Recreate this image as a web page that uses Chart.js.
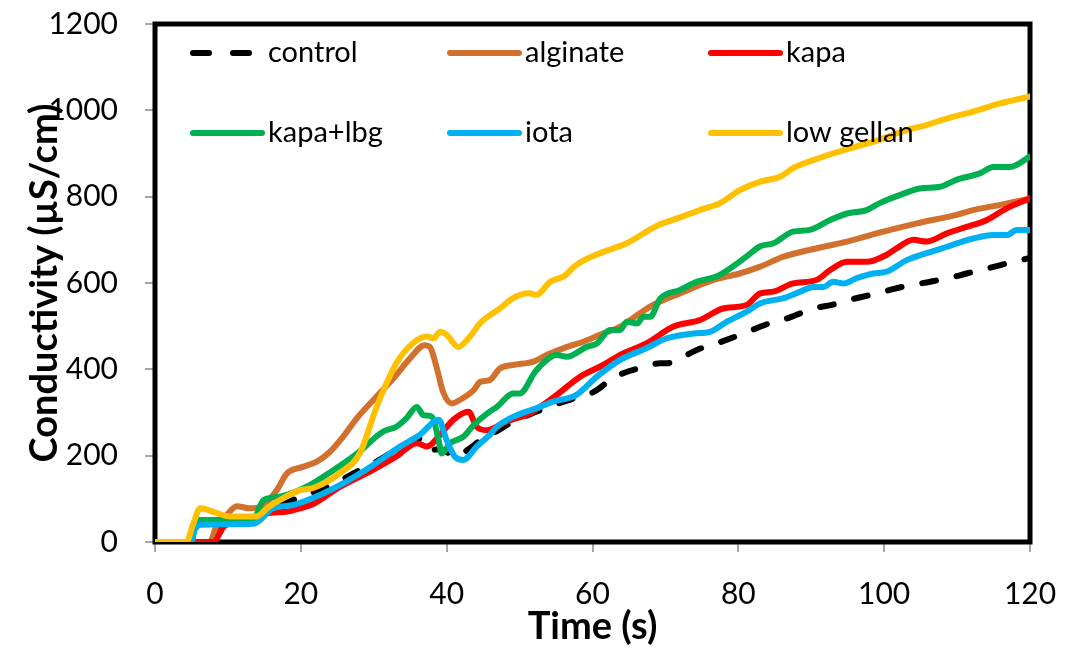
<!DOCTYPE html>
<html>
<head>
<meta charset="utf-8">
<script src="https://cdn.jsdelivr.net/npm/chart.js@4.4.1/dist/chart.umd.min.js"></script>
<style>
  html, body { margin: 0; padding: 0; background: #fff; }
</style>
</head>
<body>
<canvas id="conductivityChart" width="1076" height="648"></canvas>
<script>
// values (time in s, conductivity in µS/cm)
const controlTime = [0, 7, 8.5, 9.5, 11, 13, 15, 18, 20, 22.6, 25, 27.2, 30, 33, 36.3, 37.7, 39, 41.4, 43, 45, 47, 49.1, 52, 54.6, 57, 59.7, 60.6, 62, 64.2, 67, 69.3, 70.2, 72, 74.3, 77, 80.7, 84, 87, 90.3, 93, 95.3, 98, 100.8, 103, 106.3, 109, 111.3, 114, 117.7, 120];
const controlCond = [0, 0, 10, 40, 45, 45, 65, 90, 105, 120, 138, 159, 183, 212, 240, 213, 215, 198, 215, 240, 258, 279, 300, 317, 330, 344, 352, 370, 391, 405, 414, 414, 425, 445, 460, 483, 505, 520, 541, 550, 561, 572, 584, 593, 603, 612, 622, 633, 649, 658];

const alginateTime = [0, 7.5, 8.5, 9.8, 11.2, 13, 14.9, 16.7, 18.1, 20.3, 22.2, 24, 25.8, 27.7, 30.4, 32.7, 35, 37, 37.7, 38.6, 39.5, 40.7, 41.8, 43.7, 44.6, 45.9, 47.3, 49.1, 51.9, 53.7, 56.5, 58.7, 61, 63.8, 66.5, 68.3, 72, 76.6, 80.2, 83, 86.2, 91.7, 94.9, 99.9, 104.5, 109.9, 112.2, 115.9, 120];
const alginateCond = [0, 0, 40, 62, 83, 78, 86, 120, 159, 174, 186, 209, 244, 287, 337, 379, 426, 456, 452, 406, 348, 321, 329, 352, 371, 375, 402, 410, 418, 433, 452, 464, 480, 499, 530, 549, 576, 607, 622, 638, 661, 684, 696, 719, 738, 758, 769, 781, 796];

const kapaTime = [0, 8, 9.4, 10.5, 13, 15.3, 18, 19.9, 21.7, 25.4, 29.9, 33.1, 35.9, 37.3, 39.1, 40.9, 43, 44.1, 45.5, 47.3, 48.2, 51.4, 55.1, 58.3, 61, 64.2, 67.4, 71.1, 74.7, 77.9, 81.1, 83, 84.8, 87.5, 90.7, 92.6, 94.9, 97.6, 100.3, 101.7, 104, 105.8, 108.6, 111.3, 114.1, 116.8, 120];
const kapaCond = [0, 0, 35, 45, 48, 66, 70, 78, 88, 128, 167, 198, 229, 221, 248, 283, 302, 267, 259, 271, 279, 298, 341, 383, 406, 437, 460, 499, 514, 541, 549, 576, 580, 599, 607, 630, 649, 649, 665, 680, 700, 696, 715, 730, 746, 773, 796];

const kapaLbgTime = [0, 5, 5.7, 6.6, 13.5, 14.9, 17.1, 20.8, 24.5, 27.7, 31.3, 33.1, 34.5, 35.9, 36.8, 38, 38.9, 39.3, 40.5, 42.3, 43.7, 45.9, 46.9, 49.1, 50, 52.3, 55.1, 56.5, 59.2, 60.6, 62.4, 63.8, 64.7, 66.1, 67, 67.9, 69.3, 72, 74.3, 77, 78.9, 81.1, 83, 84.8, 87.5, 89.8, 92.6, 94.9, 97.6, 99.4, 102.2, 104.9, 107.7, 109.9, 113.1, 115, 117.3, 120];
const kapaLbgCond = [0, 0, 51, 51, 55, 97, 105, 128, 167, 205, 256, 267, 287, 313, 294, 290, 236, 205, 229, 244, 271, 302, 313, 344, 344, 398, 433, 429, 452, 460, 491, 491, 510, 506, 522, 522, 564, 584, 603, 615, 634, 661, 685, 692, 719, 723, 746, 761, 769, 785, 804, 819, 823, 839, 854, 869, 869, 893];

const iotaTime = [0, 4.8, 5.5, 6.2, 13.5, 16.2, 19, 22.6, 25.8, 29.9, 33.6, 36.3, 38.9, 40, 41.1, 42.3, 44.1, 45.9, 46.9, 49.1, 52.8, 54.6, 57.8, 60.6, 63.8, 67.4, 70.2, 73.9, 76.1, 78.4, 81.1, 83, 86.2, 88.5, 90.3, 91.7, 93, 94.4, 96.2, 98.5, 100.3, 103.1, 105.8, 108.6, 112.2, 115, 116.8, 118.2, 120];
const iotaCond = [0, 0, 30, 40, 42, 78, 86, 109, 136, 178, 221, 248, 283, 236, 198, 190, 221, 248, 267, 290, 313, 325, 341, 383, 422, 449, 472, 483, 487, 510, 533, 553, 565, 580, 591, 591, 603, 599, 611, 622, 626, 653, 669, 684, 703, 711, 711, 723, 723];

const lowGellanTime = [0, 4.3, 5.2, 6.2, 8, 10.3, 13.9, 15.5, 17.1, 19.9, 21.7, 25.4, 28.1, 30.4, 33.1, 35.4, 37.3, 38.2, 39.1, 40, 41.6, 43.2, 44.6, 47.3, 49.1, 51.4, 52.3, 54.2, 56, 57.8, 61, 64.7, 67.4, 69, 72, 74.7, 77.5, 80.2, 83, 85.7, 87.5, 91.7, 95.3, 98.5, 103.1, 105.8, 108.6, 112.2, 115.9, 120];
const lowGellanCond = [0, 0, 40, 78, 70, 59, 59, 80, 97, 120, 125, 160, 206, 313, 414, 461, 476, 472, 487, 480, 452, 476, 507, 541, 565, 576, 572, 603, 615, 642, 669, 692, 719, 734, 752, 769, 785, 815, 835, 846, 866, 893, 912, 927, 954, 966, 981, 997, 1016, 1032];

const seriesNames = ["control", "alginate", "kapa", "kapa+lbg", "iota", "low gellan"];
const xTicks = [0, 20, 40, 60, 80, 100, 120];
const yTicks = [0, 200, 400, 600, 800, 1000, 1200];

const FONT = "Lato, 'Open Sans', sans-serif";

function toPoints(times, values) {
  return times.map((t, i) => ({ x: t, y: values[i] }));
}

function makeSeries(label, times, values, color, order, dash) {
  return {
    label: label,
    data: toPoints(times, values),
    borderColor: color,
    backgroundColor: color,
    borderWidth: 6,
    borderDash: dash || [],
    borderCapStyle: 'round',
    borderJoinStyle: 'round',
    pointRadius: 0,
    cubicInterpolationMode: 'monotone',
    fill: false,
    order: order
  };
}

// plot frame, drawn under the lines like in the original
const framePlugin = {
  id: 'frame',
  beforeDatasetsDraw(chart) {
    const { ctx, chartArea } = chart;
    ctx.save();
    ctx.strokeStyle = '#000';
    ctx.lineWidth = 5;
    ctx.strokeRect(chartArea.left, chartArea.top, chartArea.right - chartArea.left, chartArea.bottom - chartArea.top);
    ctx.restore();
  }
};

// legend inside the plot: three columns, two rows
const insideLegend = {
  id: 'insideLegend',
  afterDatasetsDraw(chart) {
    const { ctx, chartArea } = chart;
    const colX = [35, 292, 553];
    const rowY = [29, 109];
    ctx.save();
    ctx.font = "29px " + FONT;
    ctx.textBaseline = 'middle';
    ctx.textAlign = 'left';
    chart.data.datasets.forEach((ds, i) => {
      const x = chartArea.left + colX[i % 3];
      const y = chartArea.top + rowY[Math.floor(i / 3)];
      ctx.strokeStyle = ds.borderColor;
      ctx.lineWidth = 6;
      ctx.lineCap = 'round';
      ctx.setLineDash(ds.borderDash.length ? [16, 24] : []);
      ctx.beginPath();
      ctx.moveTo(x + 3, y);
      ctx.lineTo(x + 72, y);
      ctx.stroke();
      ctx.setLineDash([]);
      ctx.fillStyle = '#000';
      ctx.fillText(ds.label, x + 78, y);
    });
    ctx.restore();
  }
};

const ctx = document.getElementById('conductivityChart').getContext('2d');
new Chart(ctx, {
  type: 'line',
  data: {
    datasets: [
      makeSeries(seriesNames[0], controlTime, controlCond, '#000000', 6, [14, 21]),
      makeSeries(seriesNames[1], alginateTime, alginateCond, '#D2712E', 5),
      makeSeries(seriesNames[2], kapaTime, kapaCond, '#FF0000', 4),
      makeSeries(seriesNames[3], kapaLbgTime, kapaLbgCond, '#00B050', 3),
      makeSeries(seriesNames[4], iotaTime, iotaCond, '#00B0F0', 2),
      makeSeries(seriesNames[5], lowGellanTime, lowGellanCond, '#FFC000', 1)
    ]
  },
  options: {
    responsive: false,
    animation: false,
    layout: { padding: { top: 24, right: 46, bottom: 0, left: 0 } },
    plugins: {
      legend: { display: false },
      tooltip: { enabled: false }
    },
    scales: {
      x: {
        type: 'linear',
        min: 0,
        max: 120,
        afterBuildTicks: (scale) => { scale.ticks = xTicks.map(v => ({ value: v })); },
        afterFit: (scale) => { scale.height = 106; scale.paddingLeft = 0; scale.paddingRight = 0; },
        ticks: { color: '#000', font: { family: FONT, size: 30 }, padding: 24, maxRotation: 0, callback: (v) => String(v) },
        grid: { drawOnChartArea: false, drawTicks: true, tickLength: 10, color: '#a6a6a6', lineWidth: 2 },
        border: { display: false },
        title: { display: true, text: 'Time (s)', color: '#000', font: { family: FONT, size: 38, weight: 'bold', lineHeight: 1 }, padding: { top: 0, bottom: 2 } }
      },
      y: {
        min: 0,
        max: 1200,
        afterBuildTicks: (scale) => { scale.ticks = yTicks.map(v => ({ value: v })); },
        afterFit: (scale) => { scale.width = 155; scale.paddingTop = 0; scale.paddingBottom = 0; },
        ticks: { color: '#000', font: { family: FONT, size: 30 }, padding: 27, callback: (v) => String(v) },
        grid: { drawOnChartArea: false, drawTicks: true, tickLength: 10, color: '#a6a6a6', lineWidth: 2 },
        border: { display: false },
        title: { display: true, text: 'Conductivity (µS/cm)', color: '#000', font: { family: FONT, size: 38, weight: 'bold', lineHeight: 1 }, padding: { top: 26, bottom: 0 } }
      }
    }
  },
  plugins: [framePlugin, insideLegend]
});
</script>
</body>
</html>
